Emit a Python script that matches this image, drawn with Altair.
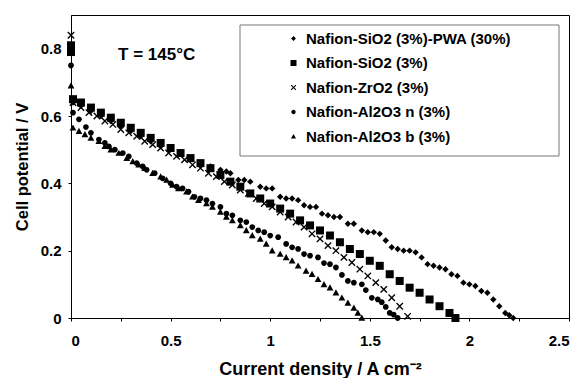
import altair as alt
import pandas as pd

series = ["Nafion-SiO2 (3%)-PWA (30%)", "Nafion-SiO2 (3%)", "Nafion-ZrO2 (3%)",
          "Nafion-Al2O3 n (3%)", "Nafion-Al2O3 b (3%)"]

pwa_x = [0, 0.01, 0.05, 0.1, 0.15, 0.2, 0.25, 0.3, 0.35, 0.4, 0.45, 0.5, 0.55, 0.6, 0.65, 0.7,
         0.75, 0.78, 0.8, 0.84, 0.87, 0.9, 0.95, 0.98, 1.01, 1.05, 1.08, 1.11, 1.14, 1.17, 1.2,
         1.23, 1.26, 1.29, 1.32, 1.35, 1.39, 1.42, 1.46, 1.49, 1.52, 1.55, 1.58, 1.61, 1.64,
         1.67, 1.70, 1.73, 1.76, 1.79, 1.82, 1.85, 1.88, 1.91, 1.94, 1.97, 2.0, 2.03, 2.06,
         2.09, 2.12, 2.15, 2.18, 2.2, 2.22]
pwa_y = [0.80, 0.64, 0.63, 0.615, 0.60, 0.585, 0.57, 0.555, 0.54, 0.525, 0.51, 0.50, 0.49,
         0.475, 0.46, 0.45, 0.44, 0.435, 0.43, 0.41, 0.41, 0.405, 0.39, 0.385, 0.385, 0.36,
         0.355, 0.355, 0.35, 0.335, 0.33, 0.33, 0.31, 0.305, 0.30, 0.30, 0.28, 0.28, 0.26,
         0.255, 0.255, 0.25, 0.23, 0.21, 0.205, 0.20, 0.20, 0.195, 0.18, 0.16, 0.155, 0.15,
         0.145, 0.13, 0.125, 0.105, 0.10, 0.095, 0.08, 0.075, 0.055, 0.035, 0.015, 0.008, 0.0]

sio2_x = [0, 0, 0.01, 0.05, 0.1, 0.15, 0.2, 0.25, 0.3, 0.35, 0.4, 0.45, 0.5, 0.55, 0.6, 0.65,
          0.7, 0.75, 0.8, 0.85, 0.9, 0.95, 1.0, 1.05, 1.1, 1.15, 1.2, 1.25, 1.3, 1.35, 1.4,
          1.45, 1.5, 1.55, 1.6, 1.65, 1.7, 1.75, 1.8, 1.85, 1.9, 1.93]
sio2_y = [0.81, 0.79, 0.65, 0.64, 0.625, 0.61, 0.595, 0.58, 0.565, 0.55, 0.535, 0.52, 0.505,
          0.49, 0.475, 0.46, 0.445, 0.425, 0.405, 0.39, 0.37, 0.355, 0.34, 0.325, 0.31, 0.29,
          0.275, 0.26, 0.245, 0.225, 0.205, 0.19, 0.17, 0.155, 0.13, 0.11, 0.09, 0.075, 0.055,
          0.035, 0.015, 0.0]

zro2_x = [0, 0.01, 0.05, 0.09, 0.13, 0.17, 0.21, 0.25, 0.29, 0.33, 0.37, 0.41, 0.45, 0.49,
          0.53, 0.57, 0.61, 0.65, 0.69, 0.73, 0.77, 0.81, 0.85, 0.89, 0.93, 0.97, 1.01, 1.05,
          1.09, 1.13, 1.17, 1.21, 1.25, 1.29, 1.33, 1.37, 1.41, 1.45, 1.49, 1.53, 1.57, 1.61,
          1.65, 1.69]
zro2_y = [0.84, 0.64, 0.625, 0.61, 0.60, 0.585, 0.575, 0.56, 0.55, 0.54, 0.525, 0.515, 0.505,
          0.49, 0.48, 0.47, 0.455, 0.445, 0.43, 0.42, 0.405, 0.395, 0.38, 0.37, 0.355, 0.34,
          0.33, 0.315, 0.30, 0.285, 0.27, 0.25, 0.235, 0.215, 0.20, 0.18, 0.165, 0.145, 0.125,
          0.105, 0.085, 0.06, 0.035, 0.005]

al_n_x = [0, 0.01, 0.04, 0.075, 0.1, 0.14, 0.17, 0.19, 0.22, 0.26, 0.29, 0.33, 0.36, 0.38,
          0.42, 0.46, 0.5, 0.53, 0.56, 0.59, 0.62, 0.65, 0.68, 0.71, 0.75, 0.78, 0.81, 0.85,
          0.88, 0.91, 0.94, 0.97, 1.0, 1.04, 1.08, 1.11, 1.14, 1.17, 1.2, 1.24, 1.27, 1.3,
          1.33, 1.36, 1.39, 1.42, 1.46, 1.48, 1.51, 1.54, 1.56, 1.58, 1.6, 1.62, 1.64]
al_n_y = [0.75, 0.61, 0.59, 0.567, 0.55, 0.53, 0.52, 0.51, 0.50, 0.49, 0.48, 0.46, 0.45, 0.44,
          0.43, 0.415, 0.40, 0.39, 0.385, 0.375, 0.36, 0.355, 0.35, 0.34, 0.33, 0.31, 0.305,
          0.29, 0.285, 0.27, 0.26, 0.255, 0.245, 0.24, 0.22, 0.21, 0.205, 0.19, 0.185, 0.18,
          0.163, 0.16, 0.15, 0.128, 0.11, 0.105, 0.10, 0.083, 0.06, 0.055, 0.047, 0.033,
          0.015, 0.01, 0.0]

al_b_x = [0, 0.01, 0.04, 0.07, 0.1, 0.14, 0.17, 0.2, 0.24, 0.28, 0.31, 0.34, 0.37, 0.41, 0.45,
          0.48, 0.51, 0.54, 0.58, 0.61, 0.64, 0.68, 0.71, 0.75, 0.78, 0.81, 0.85, 0.88, 0.91,
          0.95, 0.98, 1.01, 1.05, 1.08, 1.11, 1.14, 1.18, 1.21, 1.24, 1.27, 1.3, 1.33, 1.36,
          1.39, 1.42, 1.44, 1.46]
al_b_y = [0.69, 0.565, 0.555, 0.545, 0.535, 0.525, 0.51, 0.50, 0.49, 0.475, 0.465, 0.455,
          0.445, 0.43, 0.42, 0.41, 0.395, 0.385, 0.375, 0.36, 0.35, 0.34, 0.33, 0.315, 0.30,
          0.29, 0.275, 0.26, 0.245, 0.235, 0.22, 0.20, 0.19, 0.18, 0.17, 0.155, 0.14, 0.13,
          0.115, 0.10, 0.09, 0.075, 0.06, 0.045, 0.03, 0.015, 0.0]

x_ticks = [0, 0.25, 0.5, 0.75, 1, 1.25, 1.5, 1.75, 2, 2.25, 2.5]
y_ticks = [0, 0.1, 0.2, 0.3, 0.4, 0.5, 0.6, 0.7, 0.8, 0.9]

annotation = ["T = 145°C"]
annot_x = [0.43]
annot_y = [0.781]

rows = []
for name, xs, ys in zip(series, [pwa_x, sio2_x, zro2_x, al_n_x, al_b_x],
                        [pwa_y, sio2_y, zro2_y, al_n_y, al_b_y]):
    for a, b in zip(xs, ys):
        rows.append({"series": name, "j": a, "V": b})
df = pd.DataFrame(rows)

# marker outlines (unit box -1..1; smaller extents draw smaller markers)
diamond_path = "M0,-0.8L0.8,0L0,0.8L-0.8,0Z"
square_path = "M-1,-1H1V1H-1Z"
x_mark_path = ("M-0.68,-0.92L0.92,0.68L0.68,0.92L-0.92,-0.68Z"
               "M0.92,-0.68L-0.68,0.92L-0.92,0.68L0.68,-0.92Z")
circle_path = "M-0.72,0A0.72,0.72 0 1,0 0.72,0A0.72,0.72 0 1,0 -0.72,0Z"
triangle_path = "M0,-0.85L0.85,0.7L-0.85,0.7Z"
shapes = [diamond_path, square_path, x_mark_path, circle_path, triangle_path]

FONT = "Liberation Sans"

xscale = alt.Scale(domain=[0, 2.5], nice=False, zero=False)
yscale = alt.Scale(domain=[0, 0.9], nice=False, zero=False)

points = alt.Chart(df).mark_point(
    filled=True, color="black", opacity=1, size=64
).encode(
    x=alt.X("j:Q", scale=xscale,
            axis=alt.Axis(title="Current density / A cm⁻²", values=x_ticks,
                          labelExpr="(round(datum.value*4) % 2 == 0) ? '' + datum.value : ''",
                          grid=False, tickSize=3, labelPadding=12, titleFontSize=18,
                          titlePadding=12)),
    y=alt.Y("V:Q", scale=yscale,
            axis=alt.Axis(title="Cell potential / V", values=y_ticks,
                          labelExpr="(round(datum.value*10) % 2 == 0 && datum.value < 0.85) ? '' + round(datum.value*10)/10 : ''",
                          grid=False, tickSize=3, labelPadding=7, titleFontSize=16.5,
                          titlePadding=10)),
    shape=alt.Shape("series:N", scale=alt.Scale(domain=series, range=shapes),
                    legend=alt.Legend(title=None, orient="none", legendX=215, legendY=16,
                                      labelFont=FONT, labelFontSize=15, labelFontWeight="bold",
                                      labelColor="black", labelLimit=400, symbolSize=36,
                                      symbolFillColor="black", symbolOpacity=1,
                                      rowPadding=8.5, labelOffset=5, padding=0)),
)

box_df = pd.DataFrame({"k": [0]})
box = alt.Chart(box_df).mark_rect(
    fillOpacity=0, stroke="#777777", strokeWidth=1
).encode(x=alt.value(169), x2=alt.value(488), y=alt.value(10), y2=alt.value(141))

text_df = pd.DataFrame({"t": annotation, "x": annot_x, "y": annot_y})
text = alt.Chart(text_df).mark_text(
    font=FONT, fontSize=17, fontWeight="bold", color="black", align="center",
    baseline="middle"
).encode(x=alt.X("x:Q", scale=xscale), y=alt.Y("y:Q", scale=yscale), text="t:N")

chart = alt.layer(box, points, text).properties(
    width=498, height=303,
    autosize=alt.AutoSizeParams(type="none"),
    padding={"left": 63, "top": 7, "right": 4, "bottom": 60},
    background="white",
).configure_view(
    stroke="black", strokeWidth=1
).configure_axis(
    labelFont=FONT, labelFontSize=15, labelFontWeight="bold", labelColor="black",
    titleFont=FONT, titleFontWeight="bold", titleColor="black",
    domainColor="black", tickColor="black", domainWidth=1
)

chart.save("out.html", embed_options={"renderer": "svg", "actions": False})
